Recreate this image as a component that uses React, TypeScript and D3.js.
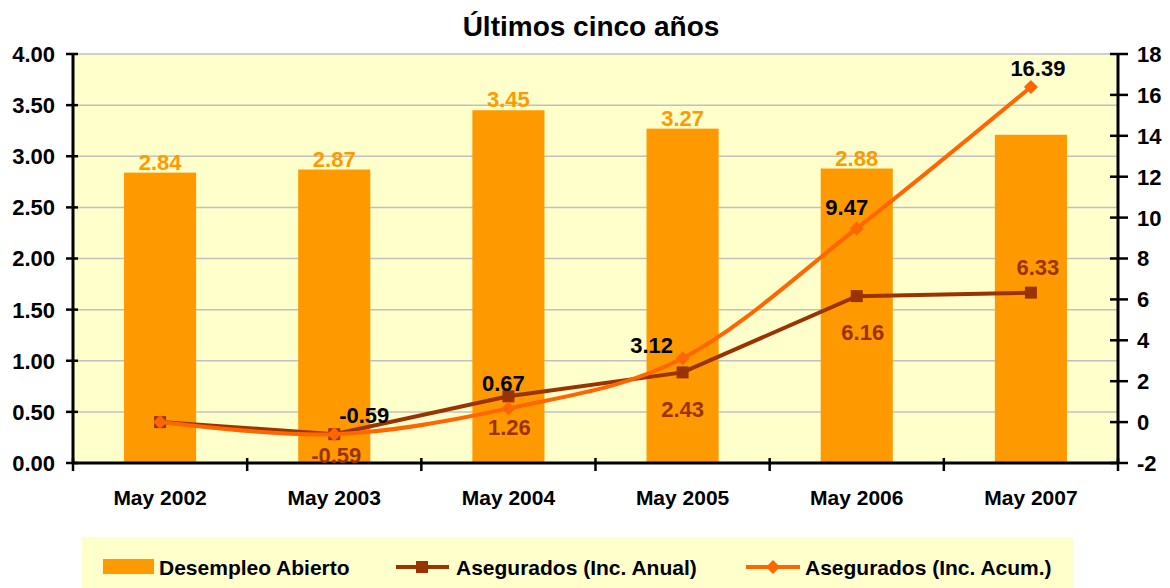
import React from "react";
import * as d3 from "d3";

const categories = ["May 2002", "May 2003", "May 2004", "May 2005", "May 2006", "May 2007"];
const desempleo = [2.84, 2.87, 3.45, 3.27, 2.88, 3.21];
const desempleoLabels = ["2.84", "2.87", "3.45", "3.27", "2.88", ""];
const incAnual = [0, -0.59, 1.26, 2.43, 6.16, 6.33];
const incAnualLabels = ["", "-0.59", "1.26", "2.43", "6.16", "6.33"];
const incAcum = [0, -0.59, 0.67, 3.12, 9.47, 16.39];
const incAcumLabels = ["", "-0.59", "0.67", "3.12", "9.47", "16.39"];
const leftTicks = [0, 0.5, 1, 1.5, 2, 2.5, 3, 3.5, 4];
const rightTicks = [-2, 0, 2, 4, 6, 8, 10, 12, 14, 16, 18];

// label offsets (styling)
const anualOffsets = [[0, 0], [2, 29], [1, 39], [0, 45], [6, 44], [7, -18]];
const acumOffsets = [[0, 0], [30, -11], [-5, -17], [-31, -5], [-10, -13], [7, -11]];

const W = 1170, H = 588;
const L = 73, R = 1118, T = 54, B = 463;
const FONT = "'Liberation Sans', Arial, sans-serif";

const C_BAR = "#FF9900";
const C_ANUAL = "#993300";
const C_ACUM = "#FF6600";
const BG = "#FFFFCC";

export default function App() {
  const x = d3.scaleBand<string>().domain(categories).range([L, R]).paddingInner(0.586).paddingOuter(0.293);
  const yL = d3.scaleLinear().domain([0, 4]).range([B, T]);
  const yR = d3.scaleLinear().domain([-2, 18]).range([B, T]);
  const cx = (c: string) => (x(c) as number) + x.bandwidth() / 2;
  const step = (R - L) / categories.length;

  const anualLine = d3.line<number>().x((_, i) => cx(categories[i])).y((d) => yR(d));
  const acumLine = d3
    .line<number>()
    .x((_, i) => cx(categories[i]))
    .y((d) => yR(d))
    .curve(d3.curveCatmullRom.alpha(0));

  const diamond = (px: number, py: number, r: number) =>
    `M${px},${py - r}L${px + r},${py}L${px},${py + r}L${px - r},${py}Z`;

  const txt = { fontFamily: FONT, fontWeight: 700 as const };

  return (
    <svg width={W} height={H} style={{ position: "absolute", left: 0, top: 0 }}>
      <rect x={0} y={0} width={W} height={H} fill="#fff" />
      <text x={591} y={36} textAnchor="middle" fontSize={28} {...txt} fill="#000">
        Últimos cinco años
      </text>
      <rect x={L} y={T} width={R - L} height={B - T} fill={BG} />
      {leftTicks.slice(1).map((t) => (
        <line key={"g" + t} x1={L} x2={R} y1={yL(t)} y2={yL(t)} stroke="#C0C0C0" strokeWidth={1.5} />
      ))}
      {categories.map((c, i) => (
        <rect
          key={"b" + c}
          x={x(c)}
          y={yL(desempleo[i])}
          width={x.bandwidth()}
          height={B - yL(desempleo[i])}
          fill={C_BAR}
        />
      ))}
      {categories.map((c, i) =>
        desempleoLabels[i] ? (
          <text key={"bl" + c} x={cx(c)} y={yL(desempleo[i]) - 3} textAnchor="middle" fontSize={22} {...txt} fill={C_BAR}>
            {desempleoLabels[i]}
          </text>
        ) : null
      )}
      {/* axes */}
      <line x1={L} x2={L} y1={T} y2={B + 1} stroke="#000" strokeWidth={3} />
      <line x1={R} x2={R} y1={T} y2={B + 1} stroke="#000" strokeWidth={3} />
      <line x1={L} x2={R} y1={B} y2={B} stroke="#000" strokeWidth={3} />
      {leftTicks.map((t) => (
        <g key={"lt" + t}>
          <line x1={L - 7} x2={L + 5} y1={yL(t)} y2={yL(t)} stroke="#000" strokeWidth={2.5} />
          <text x={55} y={yL(t)} dy="0.36em" textAnchor="end" fontSize={22} {...txt} fill="#000">
            {t.toFixed(2)}
          </text>
        </g>
      ))}
      {rightTicks.map((t) => (
        <g key={"rt" + t}>
          <line x1={R - 8} x2={R + 10} y1={yR(t)} y2={yR(t)} stroke="#000" strokeWidth={2.5} />
          <text x={1137} y={yR(t)} dy="0.36em" textAnchor="start" fontSize={22} {...txt} fill="#000">
            {t}
          </text>
        </g>
      ))}
      {d3.range(categories.length + 1).map((i) => (
        <line key={"xt" + i} x1={L + i * step} x2={L + i * step} y1={B - 5} y2={B + 8} stroke="#000" strokeWidth={2.5} />
      ))}
      {categories.map((c) => (
        <text key={"cl" + c} x={cx(c)} y={505} textAnchor="middle" fontSize={21} {...txt} fill="#000">
          {c}
        </text>
      ))}
      {/* lines */}
      <path d={anualLine(incAnual) || ""} fill="none" stroke={C_ANUAL} strokeWidth={4} />
      {categories.map((c, i) => (
        <rect key={"am" + c} x={cx(c) - 6} y={yR(incAnual[i]) - 6} width={12} height={12} fill={C_ANUAL} />
      ))}
      <path d={acumLine(incAcum) || ""} fill="none" stroke={C_ACUM} strokeWidth={4} />
      {categories.map((c, i) => (
        <path key={"cm" + c} d={diamond(cx(c), yR(incAcum[i]), 7)} fill={C_ACUM} />
      ))}
      {categories.map((c, i) =>
        incAnualLabels[i] ? (
          <text
            key={"al" + c}
            x={cx(c) + anualOffsets[i][0]}
            y={yR(incAnual[i]) + anualOffsets[i][1]}
            textAnchor="middle"
            fontSize={22}
            {...txt}
            fill={C_ANUAL}
          >
            {incAnualLabels[i]}
          </text>
        ) : null
      )}
      {categories.map((c, i) =>
        incAcumLabels[i] ? (
          <text
            key={"cl2" + c}
            x={cx(c) + acumOffsets[i][0]}
            y={yR(incAcum[i]) + acumOffsets[i][1]}
            textAnchor="middle"
            fontSize={22}
            {...txt}
            fill="#000"
          >
            {incAcumLabels[i]}
          </text>
        ) : null
      )}
      {/* legend */}
      <rect x={82} y={537} width={991} height={60} fill={BG} />
      <rect x={103} y={559} width={51} height={15} fill={C_BAR} />
      <text x={159} y={575} fontSize={21} {...txt} fill="#000">
        Desempleo Abierto
      </text>
      <line x1={396} x2={449} y1={567} y2={567} stroke={C_ANUAL} strokeWidth={4} />
      <rect x={416} y={561} width={12} height={12} fill={C_ANUAL} />
      <text x={456} y={575} fontSize={21} {...txt} fill="#000">
        Asegurados (Inc. Anual)
      </text>
      <line x1={746} x2={800} y1={567} y2={567} stroke={C_ACUM} strokeWidth={4} />
      <path d={diamond(773, 567, 7)} fill={C_ACUM} />
      <text x={805} y={575} fontSize={21} {...txt} fill="#000">
        Asegurados (Inc. Acum.)
      </text>
    </svg>
  );
}
